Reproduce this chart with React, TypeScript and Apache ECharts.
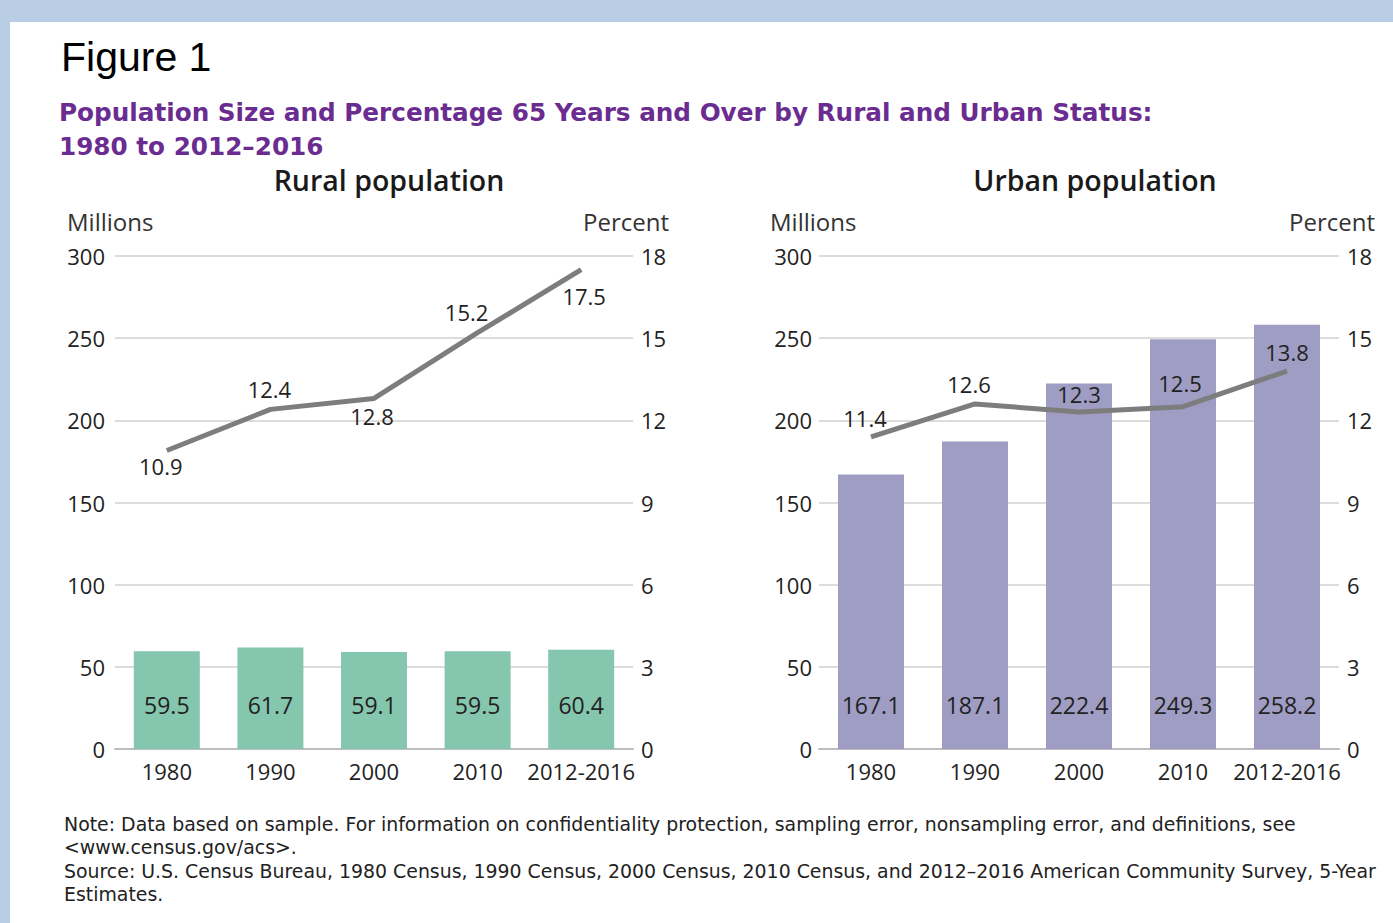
import React, { useEffect, useRef } from "react";
import * as echarts from "echarts";

const categories = ["1980", "1990", "2000", "2010", "2012-2016"];
const ruralPopulation = [59.5, 61.7, 59.1, 59.5, 60.4];
const ruralPercent = [10.9, 12.4, 12.8, 15.2, 17.5];
const urbanPopulation = [167.1, 187.1, 222.4, 249.3, 258.2];
const urbanPercent = [11.4, 12.6, 12.3, 12.5, 13.8];

const ruralLabelOffsets = [[-6, 16], [-1, -20], [-2, 18], [-11, -21], [3, 26]];
const urbanLabelOffsets = [[-6, -19], [-6, -20], [0, -18], [-3, -24], [0, -19]];

const noteLines = [
  "Note: Data based on sample. For information on confidentiality protection, sampling error, nonsampling error, and definitions, see",
  "<www.census.gov/acs>.",
  "Source: U.S. Census Bureau, 1980 Census, 1990 Census, 2000 Census, 2010 Census, and 2012–2016 American Community Survey, 5-Year",
  "Estimates.",
];

const FONT = "'Open Sans', 'Noto Sans', sans-serif";
const TEXT = "#222222";

export default function App() {
  const ref = useRef<HTMLDivElement>(null);

  useEffect(() => {
    if (!ref.current) return;
    const chart = echarts.init(ref.current, null, { renderer: "svg" });

    const gridTop = 256;
    const gridBottom = 923 - 749;

    const xAxisCommon = (gridIndex: number) => ({
      type: "category",
      gridIndex,
      data: categories,
      axisTick: { show: false },
      axisLine: { show: true, lineStyle: { color: "#bdbdbd", width: 2 } },
      axisLabel: { interval: 0, margin: 11, fontSize: 22, color: TEXT, fontFamily: FONT },
    });
    const leftAxis = (gridIndex: number, margin: number) => ({
      type: "value",
      gridIndex,
      min: 0,
      max: 300,
      interval: 50,
      axisLine: { show: false },
      axisTick: { show: false },
      axisLabel: { margin, fontSize: 22, color: TEXT, fontFamily: FONT },
      splitLine: { show: true, lineStyle: { color: "#dcdcdc", width: 2 } },
    });
    const rightAxis = (gridIndex: number) => ({
      type: "value",
      gridIndex,
      position: "right",
      min: 0,
      max: 18,
      interval: 3,
      axisLine: { show: false },
      axisTick: { show: false },
      axisLabel: { margin: 8, fontSize: 22, color: TEXT, fontFamily: FONT },
      splitLine: { show: false },
    });

    const barLabel = {
      show: true,
      position: "insideBottom",
      distance: 33,
      fontSize: 23,
      color: TEXT,
      fontFamily: FONT,
    };

    const lineData = (vals: number[], offs: number[][]) =>
      vals.map((v, i) => ({
        value: v,
        label: { offset: offs[i] },
      }));

    const lineSeries = (xi: number, yi: number, vals: number[], offs: number[][]) => ({
      type: "line",
      xAxisIndex: xi,
      yAxisIndex: yi,
      data: lineData(vals, offs),
      symbol: "circle",
      symbolSize: 1,
      showSymbol: true,
      itemStyle: { color: "rgba(0,0,0,0)" },
      lineStyle: { color: "#7d7d7d", width: 5 },
      z: 5,
      label: {
        show: true,
        position: "inside",
        fontSize: 22,
        color: TEXT,
        fontFamily: FONT,
      },
    });

    const textEl = (text: string, x: number, y: number, size: number, opts: any = {}) => ({
      type: "text",
      x,
      y,
      style: {
        text,
        fontSize: size,
        fontFamily: opts.family || FONT,
        fontWeight: opts.weight || "normal",
        fill: opts.color || TEXT,
        textAlign: opts.align || "left",
        textVerticalAlign: "middle",
        lineHeight: opts.lineHeight,
      },
    });

    const PURPLE_FONT = "'DejaVu Sans', sans-serif";

    chart.setOption({
      animation: false,
      grid: [
        { left: 115, right: 1393 - 633, top: gridTop, bottom: gridBottom },
        { left: 819, right: 1393 - 1339, top: gridTop, bottom: gridBottom },
      ],
      xAxis: [xAxisCommon(0), xAxisCommon(1)],
      yAxis: [leftAxis(0, 10), rightAxis(0), leftAxis(1, 7), rightAxis(1)],
      series: [
        {
          type: "bar",
          xAxisIndex: 0,
          yAxisIndex: 0,
          data: ruralPopulation,
          barWidth: 66,
          itemStyle: { color: "#85c6ae" },
          label: barLabel,
        },
        lineSeries(0, 1, ruralPercent, ruralLabelOffsets),
        {
          type: "bar",
          xAxisIndex: 1,
          yAxisIndex: 2,
          data: urbanPopulation,
          barWidth: 66,
          itemStyle: { color: "#a09dc4" },
          label: barLabel,
        },
        lineSeries(1, 3, urbanPercent, urbanLabelOffsets),
      ],
      graphic: [
        textEl("Figure 1", 61, 57, 41, { family: "'Liberation Sans', Arial, sans-serif", color: "#000" }),
        textEl(
          "Population Size and Percentage 65 Years and Over by Rural and Urban Status:\n1980 to 2012–2016",
          59,
          129,
          24.7,
          { weight: "bold", color: "#6b2c91", family: PURPLE_FONT, lineHeight: 34 }
        ),
        textEl("Rural population", 389, 180, 28.5, { weight: 600, align: "center", color: "#1a1a1a" }),
        textEl("Urban population", 1095, 180, 28.5, { weight: 600, align: "center", color: "#1a1a1a" }),
        textEl("Millions", 67, 221, 24, { color: "#333" }),
        textEl("Percent", 669, 221, 24, { color: "#333", align: "right" }),
        textEl("Millions", 770, 221, 24, { color: "#333" }),
        textEl("Percent", 1375, 221, 24, { color: "#333", align: "right" }),
        textEl(noteLines.join("\n"), 64, 859, 18.9, { lineHeight: 23.4, family: "'DejaVu Sans', sans-serif" }),
      ],
    });

    return () => chart.dispose();
  }, []);

  return (
    <div style={{ position: "fixed", left: 0, top: 0, width: 1393, height: 923, background: "#b9cde5" }}>
      <div style={{ position: "absolute", left: 10, top: 22, right: 0, bottom: 0, background: "#ffffff" }} />
      <div ref={ref} style={{ position: "absolute", left: 0, top: 0, width: 1393, height: 923 }} />
    </div>
  );
}
